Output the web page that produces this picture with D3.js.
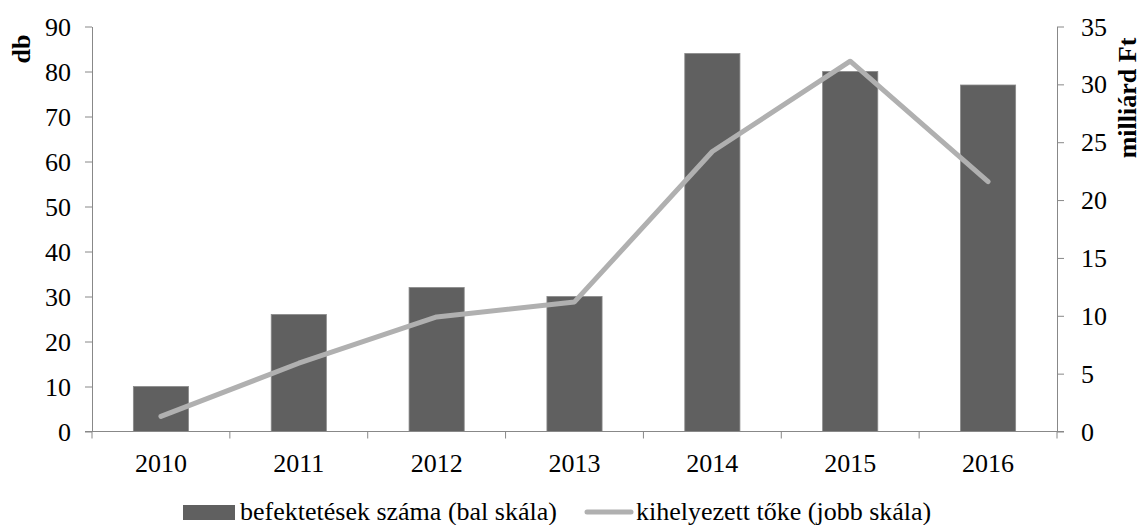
<!DOCTYPE html>
<html>
<head>
<meta charset="utf-8">
<script src="https://d3js.org/d3.v7.min.js"></script>
<style>
  body { margin: 0; background: #fff; }
  text { font-family: "Liberation Serif", "Times New Roman", serif; fill: #000; }
  .axis path, .axis line { stroke: #888; }
</style>
</head>
<body>
<svg width="1143" height="525"></svg>
<script>
// values
const years = ["2010", "2011", "2012", "2013", "2014", "2015", "2016"];
const deals = [10, 26, 32, 30, 84, 80, 77];            // bal skála (db)
const capital = [1.3, 5.9, 9.9, 11.2, 24.2, 32, 21.6]; // jobb skála (milliárd Ft)
const leftTicks = [0, 10, 20, 30, 40, 50, 60, 70, 80, 90];
const rightTicks = [0, 5, 10, 15, 20, 25, 30, 35];

const svg = d3.select("svg");
const x0 = 92, x1 = 1057, yTop = 26.5, yBot = 431.5;
const fs = "26px";

const x = d3.scaleBand().domain(years).range([x0, x1]).paddingInner(0.6).paddingOuter(0.3);
const xc = d => x(d) + x.bandwidth() / 2;
const yL = d3.scaleLinear().domain([0, 90]).range([yBot, yTop]);
const yR = d3.scaleLinear().domain([0, 35]).range([yBot, yTop]);

// bars
svg.append("g").selectAll("rect")
  .data(deals)
  .join("rect")
  .attr("x", (d, i) => x(years[i]))
  .attr("y", d => yL(d))
  .attr("width", x.bandwidth())
  .attr("height", d => yBot - yL(d))
  .attr("fill", "#606060")
  .attr("stroke", "#8a8a8a")
  .attr("stroke-width", 0.8);

// axes
const gl = svg.append("g").attr("class", "axis")
  .attr("transform", "translate(" + x0 + ",0)")
  .call(d3.axisLeft(yL).tickValues(leftTicks).tickSize(7).tickPadding(14).tickSizeOuter(0));
const gr = svg.append("g").attr("class", "axis")
  .attr("transform", "translate(" + x1 + ",0)")
  .call(d3.axisRight(yR).tickValues(rightTicks).tickSize(7).tickPadding(17).tickSizeOuter(0));

// bottom axis: ticks at category boundaries
const gb = svg.append("g").attr("class", "axis");
gb.append("line").attr("x1", x0 - 7).attr("x2", x1 + 7).attr("y1", yBot).attr("y2", yBot);
const step = (x1 - x0) / years.length;
gb.selectAll("line.tk")
  .data(d3.range(years.length + 1))
  .join("line").attr("class", "tk")
  .attr("x1", i => x0 + i * step).attr("x2", i => x0 + i * step)
  .attr("y1", yBot).attr("y2", yBot + 7);
gb.selectAll("text")
  .data(years)
  .join("text")
  .attr("x", d => xc(d))
  .attr("y", 472)
  .attr("text-anchor", "middle")
  .style("font-size", fs)
  .text(d => d);

[gl, gr].forEach(g => {
  g.selectAll("text").style("font-size", fs).style("font-family", '"Liberation Serif", serif');
  g.selectAll(".tick text").attr("dy", "0.33em");
  g.select(".domain").attr("stroke", "#888");
});

// line
const line = d3.line()
  .x((d, i) => xc(years[i]))
  .y(d => yR(d));
svg.append("path")
  .datum(capital)
  .attr("d", line)
  .attr("fill", "none")
  .attr("stroke", "#b0b0b0")
  .attr("stroke-width", 5)
  .attr("stroke-linecap", "round")
  .attr("stroke-linejoin", "round");

// axis titles
svg.append("text")
  .attr("transform", "translate(30,49) rotate(-90)")
  .attr("text-anchor", "middle")
  .style("font-size", fs).style("font-weight", "bold")
  .text("db");
svg.append("text")
  .attr("transform", "translate(1136,98) rotate(-90)")
  .attr("text-anchor", "middle")
  .style("font-size", fs).style("font-weight", "bold")
  .text("milliárd Ft");

// legend
const lg = svg.append("g");
lg.append("rect").attr("x", 183).attr("y", 505).attr("width", 52).attr("height", 15).attr("fill", "#606060");
lg.append("text").attr("x", 240).attr("y", 520).style("font-size", fs).text("befektetések száma (bal skála)");
lg.append("line").attr("x1", 587).attr("x2", 631).attr("y1", 512).attr("y2", 512)
  .attr("stroke", "#b0b0b0").attr("stroke-width", 5).attr("stroke-linecap", "round");
lg.append("text").attr("x", 636).attr("y", 520).style("font-size", fs).text("kihelyezett tőke (jobb skála)");
</script>
</body>
</html>
